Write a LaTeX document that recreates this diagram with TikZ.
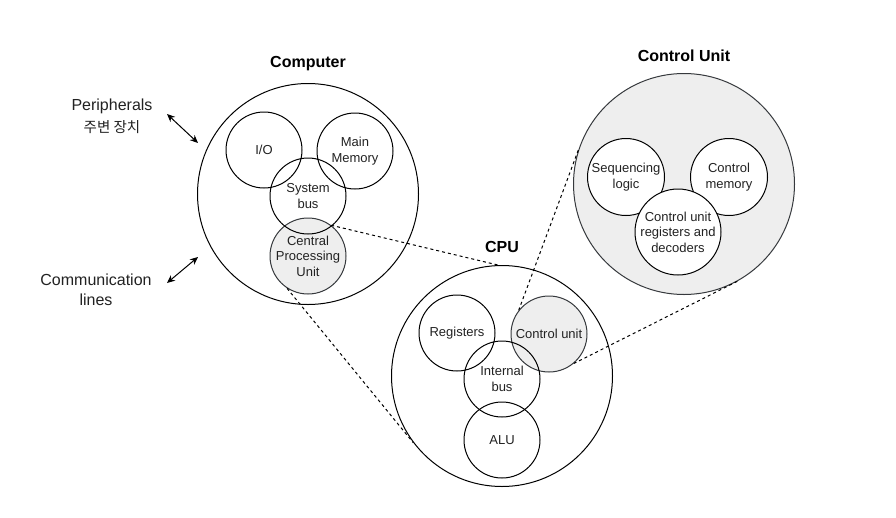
\documentclass[tikz,border=0pt]{standalone}
\usepackage{fontspec}
\setmainfont{Liberation Sans}
\newfontfamily\krfont{Noto Sans CJK KR}
\usetikzlibrary{arrows.meta}
\definecolor{lgray}{HTML}{EEEEEE}
\definecolor{edgegray}{HTML}{36393D}
\definecolor{txt}{HTML}{222222}
\begin{document}
\begin{tikzpicture}[x=1pt,y=-1pt,
  bigc/.style={circle, draw, line width=1pt, minimum size=221pt, inner sep=0pt},
  smallc/.style={circle, draw, line width=1pt, minimum size=76pt, inner sep=0pt, align=center,
     font=\fontsize{13}{15.5}\selectfont, text=txt},
  grayc/.style={fill=lgray, draw=edgegray},
  whitec/.style={fill=white},
  title/.style={font=\fontsize{16}{19}\selectfont\bfseries},
  lbl/.style={font=\fontsize{16}{20}\selectfont, text=txt, align=center, inner sep=0pt},
  krlbl/.style={font=\krfont\fontsize{14.5}{17}\selectfont, text=txt, inner sep=0pt},
  zoomline/.style={dash pattern=on 3pt off 3pt, line width=1pt},
  biarrow/.style={{Stealth[length=8pt,width=7pt]}-{Stealth[length=8pt,width=7pt]}, line width=1pt}]
\useasboundingbox[fill=white] (0,0) rectangle (896,517);

% Computer
\node[bigc] (comp) at (308,194) {};
\node[title] (compT) at (308,64) {Computer};
\node[smallc] (io) at (264,150) {I/O};
\node[smallc] (mem) at (355,151) {Main\\Memory};
\node[smallc, grayc] (cpus) at (308,256) {Central\\Processing\\Unit};
\node[smallc] (sbus) at (308,196) {System\\bus};

% CPU
\node[bigc] (cpu) at (502,376) {};
\node[title] (cpuT) at (502,247) {CPU};
\node[smallc] (reg) at (457,333) {Registers};
\node[smallc, grayc] (cus) at (549,334) {Control unit};
\node[smallc] (ibus) at (502,379) {Internal\\bus};
\node[smallc] (alu) at (502,440) {ALU};

% Control Unit
\node[bigc, grayc] (cu) at (684,184) {};
\node[title] (cuT) at (684,56) {Control Unit};
\node[smallc, whitec, minimum size=77pt] (seq) at (626,177) {Sequencing\\logic};
\node[smallc, whitec, minimum size=77pt] (cmem) at (729,177) {Control\\memory};
\node[smallc, whitec, minimum size=86pt, text depth=0pt] (cureg) at (678,232) {Control unit\\registers and\\decoders};

% zoom lines
\draw[zoomline] (cpus.53) -- (cpu.92);
\draw[zoomline] (cpus.237) -- (cpu.217);
\draw[zoomline] (cus.142) -- (cu.162);
\draw[zoomline] (cus.-50) -- (cu.-61);

% side labels
\node[lbl] (periph) at (112,106) {Peripherals};
\node[krlbl] (periphkr) at (112,127) {주변 장치};
\node[lbl] (comm) at (96,290) {Communication\\lines};

\coordinate (pa) at (167,114);
\coordinate (pb) at (198,143);
\draw[biarrow] (pa) -- (pb);
\coordinate (ca) at (167,283);
\coordinate (cb) at (198,257);
\draw[biarrow] (ca) -- (cb);
\end{tikzpicture}
\end{document}
